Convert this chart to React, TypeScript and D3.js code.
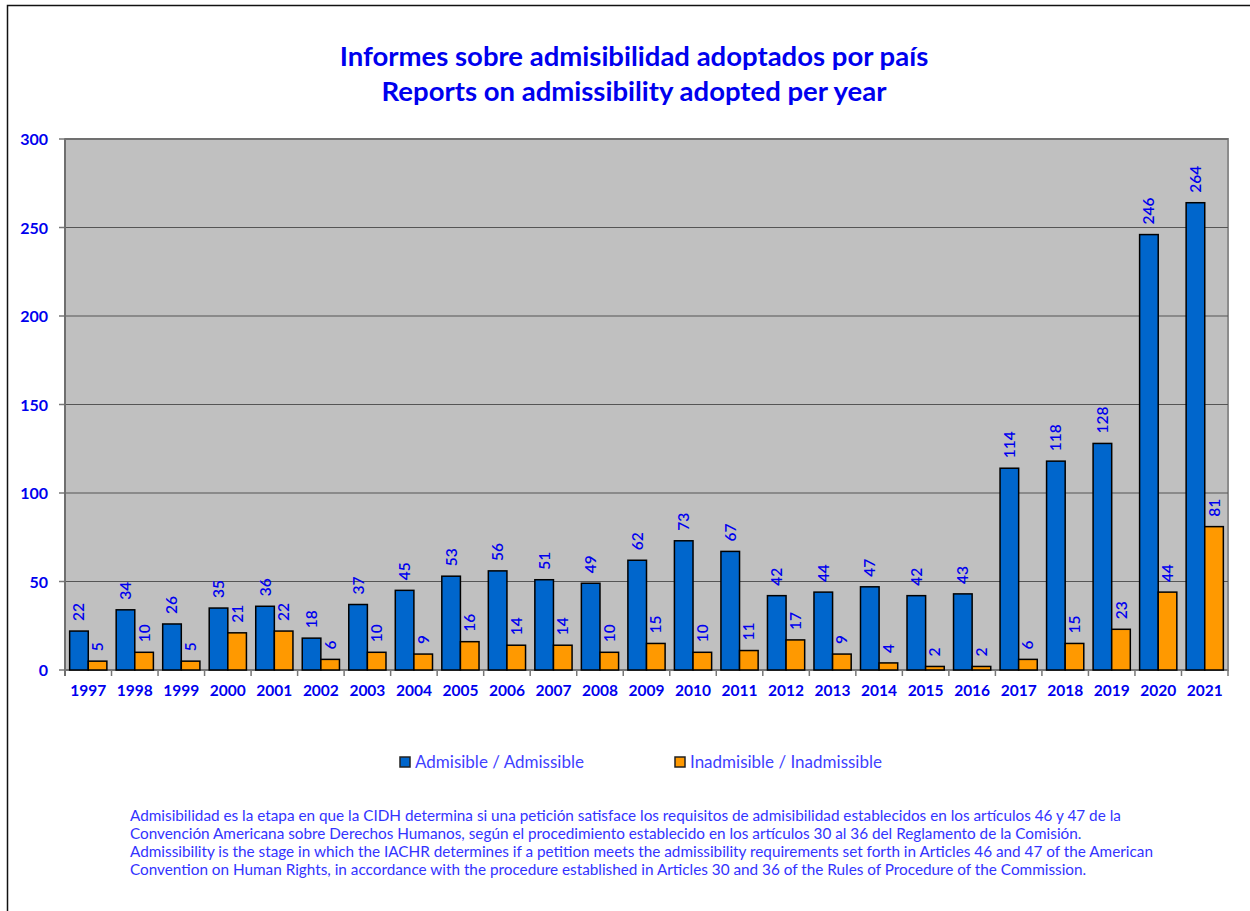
import React from 'react';
import * as d3 from 'd3';

const years = ['1997', '1998', '1999', '2000', '2001', '2002', '2003', '2004', '2005', '2006', '2007', '2008', '2009', '2010', '2011', '2012', '2013', '2014', '2015', '2016', '2017', '2018', '2019', '2020', '2021'];
const admisible = [22, 34, 26, 35, 36, 18, 37, 45, 53, 56, 51, 49, 62, 73, 67, 42, 44, 47, 42, 43, 114, 118, 128, 246, 264];
const inadmisible = [5, 10, 5, 21, 22, 6, 10, 9, 16, 14, 14, 10, 15, 10, 11, 17, 9, 4, 2, 2, 6, 15, 23, 44, 81];
const yTicks = [0, 50, 100, 150, 200, 250, 300];

const titleLines = ['Informes sobre admisibilidad adoptados por país', 'Reports on admissibility adopted per year'];
const seriesNames = ['Admisible / Admissible', 'Inadmisible / Inadmissible'];
const footnote = [
  'Admisibilidad es la etapa en que la CIDH determina si una petición satisface los requisitos de admisibilidad establecidos en los artículos 46 y 47 de la',
  'Convención Americana sobre Derechos Humanos, según el procedimiento establecido en los artículos 30 al 36 del Reglamento de la Comisión.',
  'Admissibility is the stage in which the IACHR determines if a petition meets the admissibility requirements set forth in Articles 46 and 47 of the American',
  'Convention on Human Rights, in accordance with the procedure established in Articles 30 and 36 of the Rules of Procedure of the Commission.',
];

const W = 1250;
const H = 911;
const plot = { left: 65, right: 1228, top: 139, bottom: 670 };
const colors = ['#0066CC', '#FF9900'];
const font = 'Lato, "Open Sans", sans-serif';

const App = () => {
  const x = d3.scaleBand().domain(years).range([plot.left, plot.right]).paddingInner(0).paddingOuter(0);
  const inner = d3.scaleBand().domain(['0', '1']).range([0, x.bandwidth()]).paddingInner(0).paddingOuter(0.25);
  const y = d3.scaleLinear().domain([0, 300]).range([plot.bottom, plot.top]);
  const series = [admisible, inadmisible];

  return (
    <svg width={W} height={H} style={{ display: 'block', position: 'absolute', left: 0, top: 0 }}>
      <rect x={0} y={0} width={W} height={H} fill="#fff" />
      <path d={`M7.5,${H} V5.5 H${W}`} fill="none" stroke="#111" strokeWidth={1.5} />

      {titleLines.map((t, i) => (
        <text key={t} x={634} y={66 + i * 35} textAnchor="middle" fontFamily={font} fontWeight="bold" fontSize={27.5} fill="#0000EE">{t}</text>
      ))}

      <rect x={plot.left} y={plot.top} width={plot.right - plot.left} height={plot.bottom - plot.top} fill="#C0C0C0" stroke="#8c8c8c" strokeWidth={2} />
      {yTicks.map(t => (
        <g key={t}>
          <line x1={plot.left} x2={plot.right} y1={y(t)} y2={y(t)} stroke="#555" strokeWidth={1} />
          <line x1={plot.left - 6} x2={plot.left} y1={y(t)} y2={y(t)} stroke="#777" strokeWidth={1.5} />
          <text x={48} y={y(t) + 6} textAnchor="end" fontFamily={font} fontWeight="bold" fontSize={16} fill="#0000EE">{t}</text>
        </g>
      ))}
      <line x1={plot.left} x2={plot.left} y1={plot.top} y2={plot.bottom + 6} stroke="#6f6f6f" strokeWidth={2} />
      <line x1={plot.left} x2={plot.right} y1={plot.bottom} y2={plot.bottom} stroke="#777" strokeWidth={1.5} />
      {years.map(yr => (
        <line key={yr} x1={(x(yr) as number) + x.bandwidth()} x2={(x(yr) as number) + x.bandwidth()} y1={plot.bottom} y2={plot.bottom + 6} stroke="#777" strokeWidth={1.5} />
      ))}

      {series.map((vals, s) => (
        <g key={s}>
          {vals.map((v, i) => {
            const bx = (x(years[i]) as number) + (inner(String(s)) as number);
            const bw = inner.bandwidth();
            const cx = bx + bw / 2;
            const ty = y(v) - 10;
            return (
              <g key={years[i]}>
                <rect x={bx} y={y(v)} width={bw} height={y(0) - y(v)} fill={colors[s]} stroke="#000" strokeWidth={1.5} />
                <text transform={`translate(${cx + 5.5},${ty}) rotate(-90)`} fontFamily={font} fontSize={15.5} fill="#0000EE" fontWeight="600">{v}</text>
              </g>
            );
          })}
        </g>
      ))}

      {years.map(yr => (
        <text key={yr} x={(x(yr) as number) + x.bandwidth() / 2} y={696} textAnchor="middle" fontFamily={font} fontWeight="bold" fontSize={15.5} fill="#0000EE">{yr}</text>
      ))}

      {seriesNames.map((n, i) => {
        const lx = i === 0 ? 400 : 675;
        return (
          <g key={n}>
            <rect x={lx} y={757} width={10} height={10} fill={colors[i]} stroke="#222" strokeWidth={1.5} />
            <text x={lx + 15} y={768} fontFamily={font} fontSize={17} fill="#3F3FFF">{n}</text>
          </g>
        );
      })}

      {footnote.map((l, i) => (
        <text key={i} x={130} y={821 + i * 18} fontFamily={font} fontSize={15.3} fill="#3333FF">{l}</text>
      ))}
    </svg>
  );
};

export default App;
